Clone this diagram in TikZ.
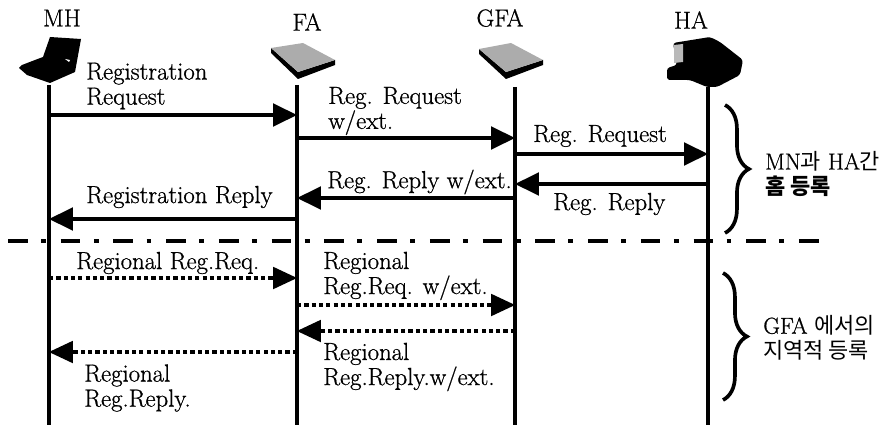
\documentclass[tikz,border=0pt]{standalone}
\usepackage{fontspec}
\newfontfamily\krfont{Noto Sans CJK KR}
\newfontfamily\labelfont{Latin Modern Roman}[FakeBold=0.8]
\newcommand{\hangul}[1]{{\krfont\fontsize{15.6}{17.8}\selectfont #1}}
\usetikzlibrary{arrows.meta,decorations.pathreplacing}

\tikzset{
    lifeline/.style={line width=2.5pt},
    solidmsg/.style={line width=2.7pt, -{Triangle[length=17pt, width=16pt]}},
    dottedmsg/.style={line width=2.8pt, dash pattern=on 3pt off 2.2pt, -{Triangle[length=17pt, width=16pt, line width=0pt, sep=0pt]}},
    divider/.style={line width=2.2pt, dash pattern=on 14pt off 9.5pt on 3.5pt off 10.5pt},
    stationlabel/.style={font=\labelfont\fontsize{17.4}{18}\selectfont},
    msglabel/.style={anchor=west, align=left, inner sep=0pt, font=\labelfont\fontsize{17.6}{17.8}\selectfont},
    grouplabel/.style={anchor=west, align=left, inner sep=0pt, font=\labelfont\fontsize{16.4}{17.8}\selectfont},
    groupbrace/.style={line width=2.6pt, decorate, decoration={brace, amplitude=17pt}}
}

\begin{document}
\begin{tikzpicture}[x=0.025cm, y=-0.025cm]
    \useasboundingbox (0, 0) rectangle (883, 427);

    \fill (50, 37) -- (81, 39) -- (75, 72) -- (50, 83) -- (27, 75) -- (19, 68) -- (22, 65) -- (35, 60) -- (43, 57) -- cycle;
    \fill[white] (65, 59) -- (70, 60) -- (69, 62) -- cycle;

    \fill (271, 48) -- (271, 53) -- (298, 79) -- (335, 65) -- (335, 60) -- (298, 72) -- cycle;
    \fill[gray!65] (271, 48) -- (303, 43) -- (335, 60) -- (298, 72) -- cycle;

    \fill (479, 49) -- (479, 54) -- (506, 79) -- (543, 65) -- (543, 60) -- (506, 72) -- cycle;
    \fill[gray!65] (479, 49) -- (511, 43) -- (543, 60) -- (506, 72) -- cycle;

    \fill[rounded corners=2pt] (673, 43) -- (710, 37) -- (720, 42) -- (743, 60) -- (740, 75) -- (717, 87) -- (707, 87) -- (690, 80) -- (667, 80) -- (667, 68) -- (677, 65) -- cycle;
    \fill[gray!55] (674, 45) -- (683, 44) -- (683, 62) -- (674, 63) -- cycle;

    \node[stationlabel] (mh) at (62, 18) {MH};
    \node[stationlabel] (fa) at (307, 22) {FA};
    \node[stationlabel] (gfa) at (500, 18) {GFA};
    \node[stationlabel] (ha) at (691, 20) {HA};

    \coordinate (mhtop) at (49, 85);
    \coordinate (mhbot) at (49, 425);
    \coordinate (fatop) at (297, 85);
    \coordinate (fabot) at (297, 425);
    \coordinate (gfatop) at (515, 87);
    \coordinate (gfabot) at (515, 425);
    \coordinate (hatop) at (708, 87);
    \coordinate (habot) at (708, 425);

    \draw[lifeline] (mhtop) -- (mhbot);
    \draw[lifeline] (fatop) -- (fabot);
    \draw[lifeline] (gfatop) -- (gfabot);
    \draw[lifeline] (hatop) -- (habot);

    \coordinate (mha) at (49, 115);
    \coordinate (faa) at (297, 115);
    \coordinate (fab) at (297, 138);
    \coordinate (gfab) at (515, 138);
    \coordinate (gfac) at (515, 154);
    \coordinate (hac) at (708, 154);
    \coordinate (had) at (708, 184);
    \coordinate (gfad) at (515, 184);
    \coordinate (gfae) at (515, 198);
    \coordinate (fae) at (297, 198);
    \coordinate (faf) at (297, 219);
    \coordinate (mhf) at (49, 219);

    \draw[solidmsg] (mha) -- (faa);
    \draw[solidmsg] (fab) -- (gfab);
    \draw[solidmsg] (gfac) -- (hac);
    \draw[solidmsg] (had) -- (gfad);
    \draw[solidmsg] (gfae) -- (fae);
    \draw[solidmsg] (faf) -- (mhf);

    \coordinate (dividerl) at (8, 241);
    \coordinate (dividerr) at (822, 241);
    \draw[divider] (dividerl) -- (dividerr);

    \coordinate (mhg) at (49, 278);
    \coordinate (fag) at (297, 278);
    \coordinate (fah) at (297, 305);
    \coordinate (gfah) at (515, 305);
    \coordinate (gfai) at (515, 331);
    \coordinate (fai) at (297, 331);
    \coordinate (faj) at (297, 352);
    \coordinate (mhj) at (49, 352);

    \draw[dottedmsg] (mhg) -- (fag);
    \draw[dottedmsg] (fah) -- (gfah);
    \draw[dottedmsg] (gfai) -- (fai);
    \draw[dottedmsg] (faj) -- (mhj);

    \node[msglabel] (regreq) at (86, 86) {Registration\\Request};
    \node[msglabel] (regreqext) at (328, 111) {Reg. Request\\w/ext.};
    \node[msglabel] (hareq) at (533, 136) {Reg. Request};
    \node[msglabel] (regrepext) at (327, 182) {Reg. Reply w/ext.};
    \node[msglabel] (harep) at (553, 204) {Reg. Reply};
    \node[msglabel] (regrep) at (86, 197) {Registration Reply};
    \node[msglabel] (locreq) at (76, 263) {Regional Reg.Req.};
    \node[msglabel] (locreqext) at (323, 276) {Regional\\Reg.Req. w/ext.};
    \node[msglabel] (locrepext) at (323, 367) {Regional\\Reg.Reply.w/ext.};
    \node[msglabel] (locrep) at (84, 388) {Regional\\Reg.Reply.};

    \coordinate (bracea) at (725, 105);
    \coordinate (braceb) at (725, 233);
    \coordinate (bracec) at (723, 273);
    \coordinate (braced) at (723, 400);
    \draw[groupbrace] (bracea) -- (braceb);
    \draw[groupbrace] (bracec) -- (braced);

    \node[grouplabel] (homereg) at (765, 174) {MN\hangul{과} HA\hangul{간}\\\hangul{\bfseries 홈 등록}};
    \node[grouplabel] (localreg) at (763, 338) {GFA \hangul{에서의}\\\hangul{지역적 등록}};
\end{tikzpicture}
\end{document}
